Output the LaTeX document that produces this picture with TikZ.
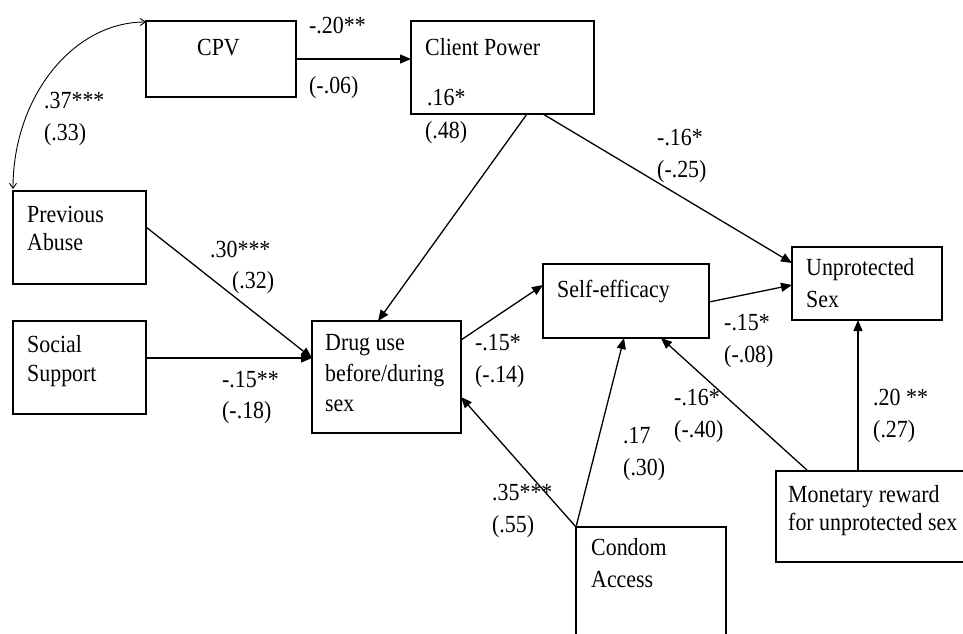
\documentclass[tikz,border=0pt]{standalone}
\usepackage{fontspec}
\setmainfont[FakeStretch=0.89]{Liberation Serif}
\usetikzlibrary{arrows.meta}
\begin{document}
\begin{tikzpicture}[x=1pt,y=-1pt,
  box/.style={draw, line width=1.3pt, anchor=north west, inner sep=0pt, outer sep=0pt},
  txt/.style={anchor=base west, inner sep=0pt, font=\fontsize{24.6}{30}\selectfont},
  arr/.style={-{Triangle[length=11pt,width=9pt]}, line width=1.3pt},
  dbl/.style={{Straight Barb[length=5pt,width=7pt]}-{Straight Barb[length=5pt,width=7pt]}, line width=0.9pt}]
\useasboundingbox (0,0) rectangle (963,633);
\fill[white] (0,0) rectangle (963,633);
\clip (0,0) rectangle (963,633);

% variable boxes
\node[box, minimum width=150pt, minimum height=76pt]  (cpv)  at (146,21)  {};
\node[box, minimum width=183pt, minimum height=93pt]  (cp)   at (411,21)  {};
\node[box, minimum width=133pt, minimum height=93pt]  (pa)   at (13,191)  {};
\node[box, minimum width=133pt, minimum height=93pt]  (ss)   at (13,321)  {};
\node[box, minimum width=149pt, minimum height=112pt] (drug) at (312,321) {};
\node[box, minimum width=166pt, minimum height=74pt]  (se)   at (543,264) {};
\node[box, minimum width=150pt, minimum height=73pt]  (unp)  at (792,247) {};
\node[box, minimum width=150pt, minimum height=130pt] (ca)   at (576,527) {};
\node[box, minimum width=200pt, minimum height=91pt]  (mr)   at (776,471) {};

% box texts
\node[txt] (tcpv) at (197,55) {CPV};
\node[txt] (tcp)  at (425,55) {Client Power};
\node[txt] (tpa1) at (27,222) {Previous};
\node[txt] (tpa2) at (27,250) {Abuse};
\node[txt] (tss1) at (27,352) {Social};
\node[txt] (tss2) at (27,381) {Support};
\node[txt] (tdr1) at (325,350) {Drug use};
\node[txt] (tdr2) at (325,381) {before/during};
\node[txt] (tdr3) at (325,411) {sex};
\node[txt] (tse)  at (557,297) {Self-efficacy};
\node[txt] (tun1) at (806,275) {Unprotected};
\node[txt] (tun2) at (806,307) {Sex};
\node[txt] (tca1) at (591,555) {Condom};
\node[txt] (tca2) at (591,587) {Access};
\node[txt] (tmr1) at (788,502) {Monetary reward};
\node[txt] (tmr2) at (788,530) {for unprotected sex};

% path coefficients
\node[txt] (c1a) at (309,33)  {-.20**};
\node[txt] (c1b) at (309,93)  {(-.06)};
\node[txt] (c2a) at (44,108)  {.37***};
\node[txt] (c2b) at (44,140)  {(.33)};
\node[txt] (c3a) at (427,105) {.16*};
\node[txt] (c3b) at (425,138) {(.48)};
\node[txt] (c4a) at (657,145) {-.16*};
\node[txt] (c4b) at (657,177) {(-.25)};
\node[txt] (c5a) at (210,257) {.30***};
\node[txt] (c5b) at (232,288) {(.32)};
\node[txt] (c6a) at (222,387) {-.15**};
\node[txt] (c6b) at (222,418) {(-.18)};
\node[txt] (c7a) at (475,350) {-.15*};
\node[txt] (c7b) at (475,382) {(-.14)};
\node[txt] (c8a) at (724,330) {-.15*};
\node[txt] (c8b) at (724,362) {(-.08)};
\node[txt] (c9a) at (674,405) {-.16*};
\node[txt] (c9b) at (674,437) {(-.40)};
\node[txt] (c10a) at (873,405) {.20 **};
\node[txt] (c10b) at (873,437) {(.27)};
\node[txt] (c11a) at (623,443) {.17};
\node[txt] (c11b) at (623,475) {(.30)};
\node[txt] (c12a) at (492,500) {.35***};
\node[txt] (c12b) at (492,532) {(.55)};

% correlation between CPV and previous abuse
\draw[dbl] ([shift={(0,1)}]cpv.north west) .. controls +(-73,0) and +(0,-92) .. ([shift={(0,-2)}]pa.north west);

% directed paths
\draw[arr] ([shift={(0,38)}]cpv.north east) -- ([shift={(0,38)}]cp.north west);
\draw[arr] ([shift={(116,0)}]cp.south west) -- ([shift={(66,0)}]drug.north west);
\draw[arr] ([shift={(132,0)}]cp.south west) -- ([shift={(0,16)}]unp.north west);
\draw[arr] ([shift={(0,36)}]pa.north east) -- ([shift={(0,37)}]drug.north west);
\draw[arr] ([shift={(0,37)}]ss.north east) -- ([shift={(0,37)}]drug.north west);
\draw[arr] ([shift={(0,19)}]drug.north east) -- ([shift={(0,21)}]se.north west);
\draw[arr] ([shift={(0,38)}]se.north east) -- ([shift={(0,38)}]unp.north west);
\draw[arr] (ca.north west) -- ([shift={(0,76)}]drug.north east);
\draw[arr] (ca.north west) -- ([shift={(81,0)}]se.south west);
\draw[arr] ([shift={(32,0)}]mr.north west) -- ([shift={(118,0)}]se.south west);
\draw[arr] ([shift={(82,0)}]mr.north west) -- ([shift={(66,0)}]unp.south west);
\end{tikzpicture}
\end{document}
